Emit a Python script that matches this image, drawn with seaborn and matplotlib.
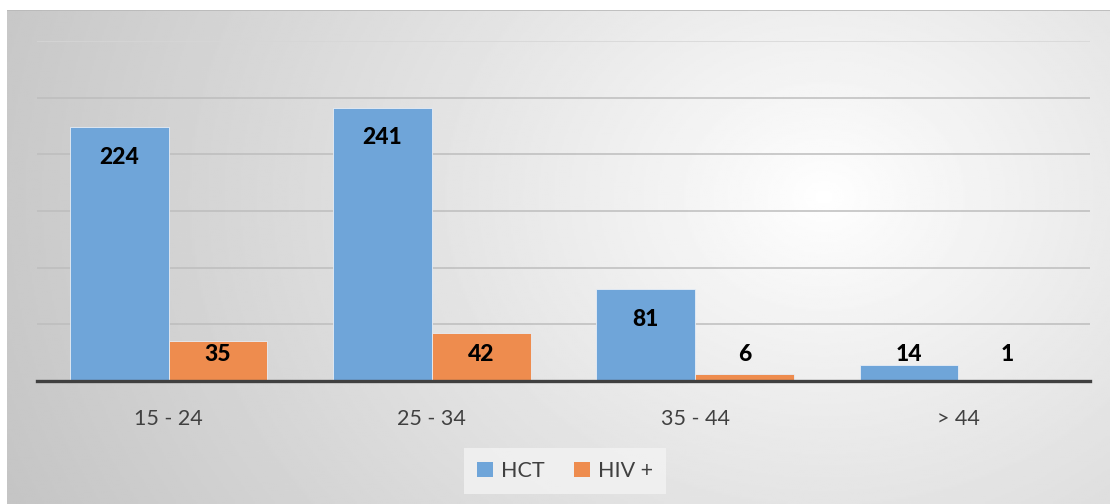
import numpy as np
import pandas as pd
import matplotlib.pyplot as plt
import seaborn as sb
from matplotlib.patches import Patch

# datos
grupos = ["15 - 24", "25 - 34", "35 - 44", "> 44"]
hct = [224, 241, 81, 14]
hiv = [35, 42, 6, 1]
series = ["HCT", "HIV +"]
colores = ["#6fa5d9", "#ee8c4e"]

df = pd.DataFrame({
    "grupo": grupos * 2,
    "valor": hct + hiv,
    "serie": [series[0]] * len(grupos) + [series[1]] * len(grupos),
})

sb.set_style("white")
plt.rcParams["font.family"] = ["Lato", "DejaVu Sans"]

fig = plt.figure(figsize=(11.1, 5.04), dpi=100)
fig.patch.set_facecolor("white")

# fondo con degradado radial
bg = fig.add_axes([7 / 1110, 0, 1103 / 1110, 494 / 504], zorder=-1)
h, w = 250, 550
yy, xx = np.mgrid[0:h, 0:w]
cx, cy = 0.74 * w, 0.62 * h
d = np.sqrt(((xx - cx) / w) ** 2 + ((yy - cy) / h * 0.55) ** 2)
d = d / d.max()
img = 1.0 - 0.23 * np.clip(d, 0, 1) ** 0.9
bg.imshow(img, cmap="gray", vmin=0, vmax=1, aspect="auto", origin="lower",
          extent=[0, 1, 0, 1])
bg.set_axis_off()
bg.plot([0, 1], [0.999, 0.999], color="#b8b8b8", lw=1.2, transform=bg.transAxes)

ax = fig.add_axes([37 / 1110, 123 / 504, 1053 / 1110, 340 / 504])
ax.patch.set_alpha(0)

sb.barplot(data=df, x="grupo", y="valor", hue="serie", palette=colores,
           saturation=1, width=0.75, ax=ax, legend=False, edgecolor="#e8eef6",
           linewidth=0.6, zorder=3)

ax.set_ylim(0, 300)
ax.set_yticks(np.arange(50, 301, 50))
ax.set_yticklabels([])
ax.tick_params(axis="y", length=0)
ax.grid(axis="y", color="#bdbdbd", lw=1.1, zorder=0)
ax.yaxis.get_gridlines()[-1].set_color("#d6d6d6")
for s in ["top", "right", "left"]:
    ax.spines[s].set_visible(False)
ax.spines["bottom"].set_color("#404040")
ax.spines["bottom"].set_linewidth(2.4)
ax.spines["bottom"].set_zorder(5)
ax.set_xlabel("")
ax.set_ylabel("")
ax.tick_params(axis="x", length=0, pad=20, labelsize=15.5, labelcolor="#404040")

# etiquetas de datos
for cont, vals in zip(ax.containers, [hct, hiv]):
    for p, v in zip(cont.patches, vals):
        ypos = max(v - 26.5, 23)
        ax.text(p.get_x() + p.get_width() / 2, ypos, str(v), ha="center",
                va="center", fontsize=16.5, fontweight="black", color="black",
                zorder=6)

# leyenda
handles = [Patch(facecolor=c, edgecolor="none") for c in colores]
leg = fig.legend(handles, series, loc="center", bbox_to_anchor=(565 / 1110, 1 - 471 / 504),
                 ncol=2, frameon=True, fontsize=15.5, handlelength=0.75,
                 handleheight=0.75, handletextpad=0.35, columnspacing=1.4,
                 borderpad=0.6, fancybox=False)
leg.get_frame().set_facecolor("#f3f3f3")
leg.get_frame().set_edgecolor("none")
for t in leg.get_texts():
    t.set_color("#404040")

fig.savefig("out.png", dpi=100)
